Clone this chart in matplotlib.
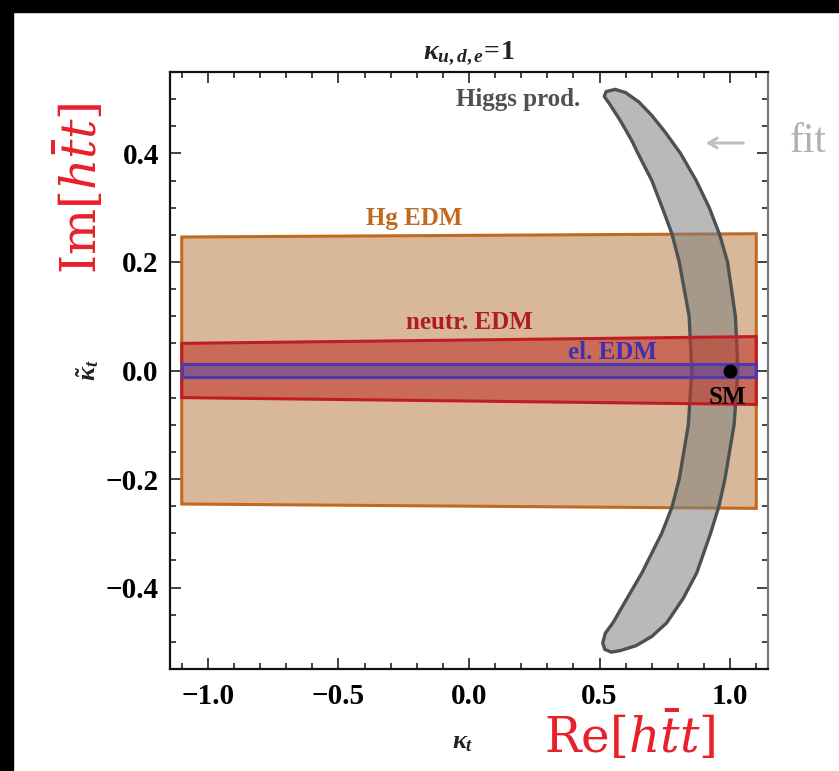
import matplotlib
matplotlib.use("Agg")
import matplotlib.pyplot as plt
from matplotlib.patches import Polygon, Rectangle
from matplotlib.ticker import MultipleLocator

plt.rcParams['font.family'] = ['Liberation Serif', 'DejaVu Serif']
plt.rcParams['mathtext.fontset'] = 'custom'
plt.rcParams['mathtext.it'] = 'Liberation Serif:italic:bold'
plt.rcParams['mathtext.rm'] = 'Liberation Serif:bold'
plt.rcParams['mathtext.bf'] = 'Liberation Serif:bold'

# ---- data ----
xlim = (-1.145, 1.145)
ylim = (-0.55, 0.55)
xticks = [-1.0, -0.5, 0.0, 0.5, 1.0]
yticks = [-0.4, -0.2, 0.0, 0.2, 0.4]
xticklabels = ['\u22121.0', '\u22120.5', '0.0', '0.5', '1.0']
yticklabels = ['\u22120.4', '\u22120.2', '0.0', '0.2', '0.4']

# Hg EDM allowed region corners (kappa_t, kappa~_t)
hg_x = [-1.10, 1.10, 1.10, -1.10]
hg_y = [0.246, 0.252, -0.254, -0.246]
# neutron EDM
n_x = [-1.10, 1.10, 1.10, -1.10]
n_y = [0.050, 0.0625, -0.0625, -0.050]
# electron EDM
e_x = [-1.10, 1.10, 1.10, -1.10]
e_y = [0.012, 0.012, -0.012, -0.012]

# Higgs production band: outer edge (top -> bottom), inner edge (bottom -> top)
outer_kt = [0.518, 0.512, 0.495, 0.470, 0.440, 0.400, 0.350, 0.300, 0.250, 0.200,
            0.100, 0.000, -0.100, -0.200, -0.250, -0.300, -0.373, -0.420, -0.465,
            -0.490, -0.507, -0.516, -0.519]
outer_k = [0.560, 0.600, 0.650, 0.700, 0.750, 0.810, 0.870, 0.920, 0.960, 0.990,
           1.020, 1.030, 1.015, 0.980, 0.957, 0.925, 0.872, 0.820, 0.757,
           0.700, 0.640, 0.580, 0.545]
inner_kt = [-0.514, -0.502, -0.484, -0.465, -0.420, -0.373, -0.300, -0.252, -0.200,
            -0.100, 0.000, 0.100, 0.200, 0.252, 0.300, 0.350, 0.400, 0.423, 0.460,
            0.490, 0.505, 0.514]
inner_k = [0.520, 0.512, 0.522, 0.551, 0.605, 0.662, 0.738, 0.777, 0.805,
           0.840, 0.853, 0.843, 0.805, 0.777, 0.740, 0.700, 0.647, 0.624, 0.580,
           0.540, 0.518, 0.525]

sm_point = (1.0, 0.0)

fig = plt.figure(figsize=(8.39, 7.71), dpi=100)
fig.patch.set_facecolor('white')
# black borders
fig.patches.append(Rectangle((0, 0), 0.016, 1, transform=fig.transFigure, color='black', zorder=0))
fig.patches.append(Rectangle((0, 0.985), 1, 0.015, transform=fig.transFigure, color='black', zorder=0))

ax = fig.add_axes([0.2026, 0.1323, 0.7128, 0.7743])
ax.set_xlim(*xlim)
ax.set_ylim(*ylim)

ax.add_patch(Polygon(list(zip(hg_x, hg_y)), closed=True, facecolor='#d8b898',
                     edgecolor='#c06a20', lw=2.2, zorder=2))
band = list(zip(outer_k, outer_kt)) + list(zip(inner_k, inner_kt))
ax.add_patch(Polygon(band, closed=True, facecolor='#808080', alpha=0.55,
                     edgecolor='none', zorder=3))
ax.add_patch(Polygon(band, closed=True, facecolor='none', joinstyle='round',
                     edgecolor='#4a5252', lw=2.4, zorder=3.1))
ax.add_patch(Polygon(list(zip(n_x, n_y)), closed=True, facecolor='#c0392b', alpha=0.6,
                     edgecolor='none', zorder=4))
ax.add_patch(Polygon(list(zip(n_x, n_y)), closed=True, facecolor='none',
                     edgecolor='#c01c24', lw=2.2, zorder=4.1))
ax.add_patch(Polygon(list(zip(e_x, e_y)), closed=True, facecolor='#4040c0', alpha=0.45,
                     edgecolor='none', zorder=5))
ax.add_patch(Polygon(list(zip(e_x, e_y)), closed=True, facecolor='none',
                     edgecolor='#4a3cb0', lw=2.2, zorder=5.1))
ax.plot([sm_point[0]], [sm_point[1]], 'o', color='black', ms=9, zorder=6)

tfont = dict(family='Liberation Serif', weight='bold', zorder=10)
ax.text(0.19, 0.50, 'Higgs prod.', color='#505050', fontsize=18, ha='center', va='center', **tfont)
ax.text(-0.21, 0.281, 'Hg EDM', color='#c06a20', fontsize=18, ha='center', va='center', **tfont)
ax.text(0.0, 0.088, 'neutr. EDM', color='#b01c20', fontsize=18, ha='center', va='center', **tfont)
ax.text(0.55, 0.033, 'el. EDM', color='#4030b0', fontsize=18, ha='center', va='center', **tfont)
ax.text(0.99, -0.05, 'SM', color='black', fontsize=18, ha='center', va='center', **tfont)

ax.set_xticks(xticks)
ax.set_yticks(yticks)
ax.set_xticklabels(xticklabels)
ax.set_yticklabels(yticklabels)
ax.xaxis.set_minor_locator(MultipleLocator(0.1))
ax.yaxis.set_minor_locator(MultipleLocator(0.05))
ax.tick_params(which='both', direction='in', top=True, right=True, width=1.2, color='#222222')
ax.tick_params(which='major', length=8)
ax.tick_params(which='minor', length=4)
ax.tick_params(axis='x', pad=10)
ax.tick_params(axis='y', pad=8)
for lab in ax.get_xticklabels() + ax.get_yticklabels():
    lab.set_fontfamily('Liberation Serif')
    lab.set_fontweight('bold')
    lab.set_fontsize(21)
for s in ['left', 'bottom', 'top']:
    ax.spines[s].set_linewidth(1.6)
    ax.spines[s].set_color('#111111')
ax.spines['right'].set_linewidth(1.6)
ax.spines['right'].set_color('#777777')

ax.set_xlabel(r'$\kappa_t$', fontsize=19, color='#222222')
ax.xaxis.set_label_coords(0.49, -0.105)
ax.set_ylabel(r'$\tilde{\kappa}_t$', fontsize=19, color='#222222')
ax.yaxis.set_label_coords(-0.115, 0.5)
ax.set_title(r'$\kappa_{u,d,e}\!=\!1$', fontsize=20, pad=10, color='#222222')

red = '#e8202a'
fig.text(0.095, 0.756, r'$\mathrm{Im}[h\bar{t}t]$', color=red, fontsize=35, rotation=90,
         ha='center', va='center', math_fontfamily='dejavuserif')
fig.text(0.751, 0.045, r'$\mathrm{Re}[h\bar{t}t]$', color=red, fontsize=35,
         ha='center', va='center', math_fontfamily='dejavuserif')
ax.annotate('', xy=(703 / 839, 1 - 143 / 771), xytext=(746 / 839, 1 - 143 / 771),
            xycoords='figure fraction', textcoords='figure fraction',
            arrowprops=dict(arrowstyle='->,head_length=0.6,head_width=0.35',
                            color='#c0c0c0', lw=2.2), annotation_clip=False)
fig.text(0.963, 0.816, 'fit', color='#b0b0b0', fontsize=30, ha='center', va='center')

fig.savefig('out.png', dpi=100)
